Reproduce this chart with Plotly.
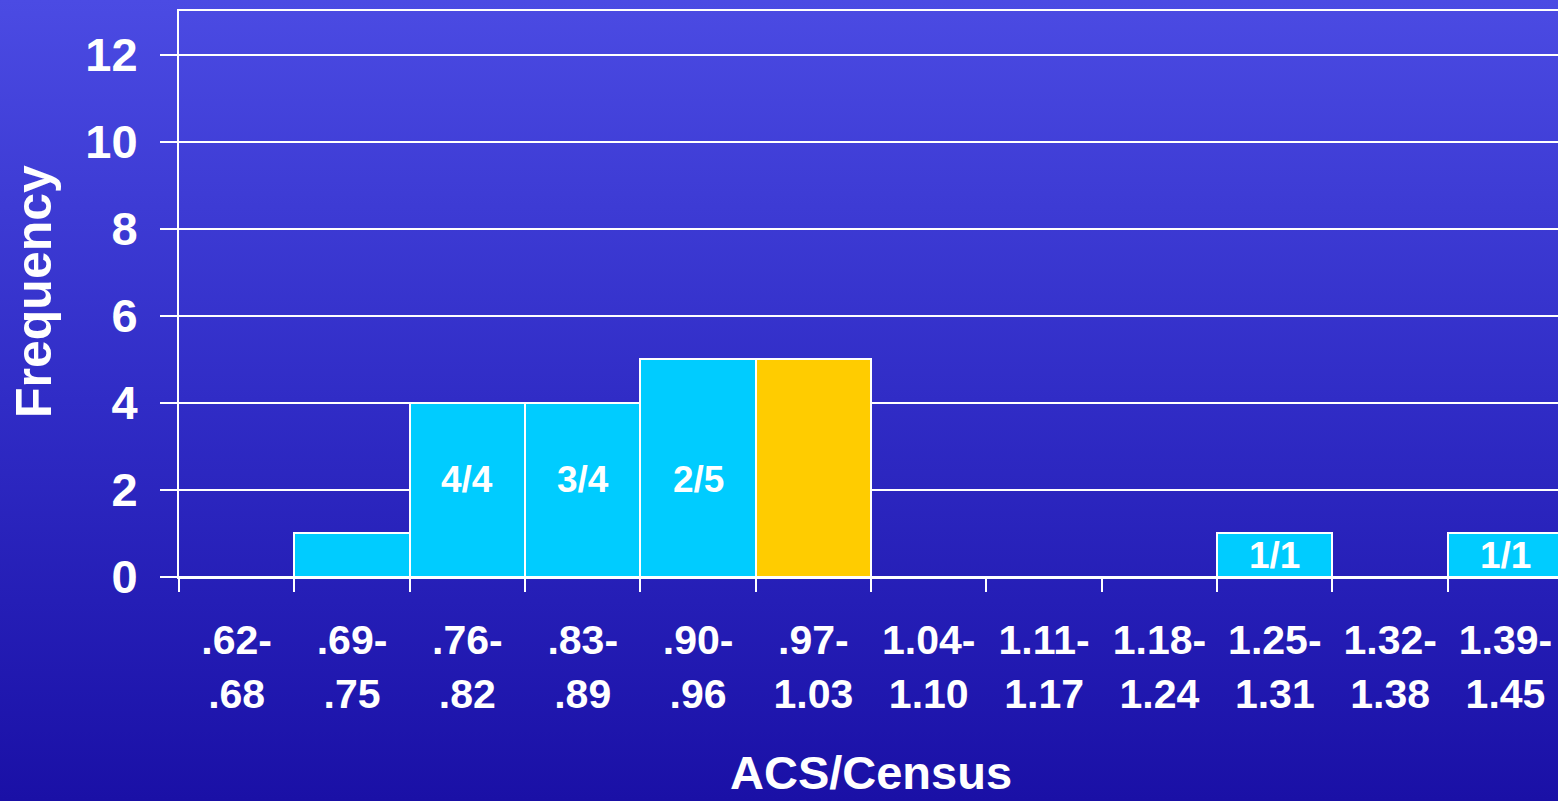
import base64
import plotly.graph_objects as go

# ---- data ----
bin_labels = [".62-<br>.68", ".69-<br>.75", ".76-<br>.82", ".83-<br>.89", ".90-<br>.96",
              ".97-<br>1.03", "1.04-<br>1.10", "1.11-<br>1.17", "1.18-<br>1.24",
              "1.25-<br>1.31", "1.32-<br>1.38", "1.39-<br>1.45"]
frequency = [0, 1, 4, 4, 5, 5, 0, 0, 0, 1, 0, 1]
bar_notes = ["", "", "4/4", "3/4", "2/5", "", "", "", "", "1/1", "", "1/1"]
y_ticks = [0, 2, 4, 6, 8, 10, 12]
highlight_bin = 5

W, H = 1558, 801
L, R, T, B = 179, 0, 11, 224
pw, ph = W - L - R, H - T - B

colors = ["#FFCC00" if i == highlight_bin else "#00CCFF" for i in range(len(bin_labels))]

FONT = "Liberation Sans, Arial, Helvetica, sans-serif"

svg = f'''<svg xmlns="http://www.w3.org/2000/svg" width="{W}" height="{H}" preserveAspectRatio="none">
<defs><linearGradient id="g" x1="0" y1="0" x2="0" y2="1">
<stop offset="0" stop-color="#4b4be3"/><stop offset="0.5" stop-color="#302cc6"/><stop offset="1" stop-color="#1a10a6"/>
</linearGradient></defs><rect width="{W}" height="{H}" fill="url(#g)"/></svg>'''
src = "data:image/svg+xml;base64," + base64.b64encode(svg.encode()).decode()

fig = go.Figure()
fig.add_trace(go.Bar(
    x=bin_labels, y=frequency,
    marker=dict(color=colors, line=dict(color="white", width=2)),
    hoverinfo="skip",
))

annotations = []
for i, (lab, v, note) in enumerate(zip(bin_labels, frequency, bar_notes)):
    if note:
        annotations.append(dict(
            x=lab, y=(2.25 if v >= 4 else v / 2), xref="x", yref="y", text=note,
            showarrow=False, font=dict(family=FONT, size=37, color="white", weight="bold"),
        ))

annotations.append(dict(
    x=-(L - 34) / pw, y=(ph - (292 - T)) / ph,
    xref="paper", yref="paper", text="Frequency", textangle=-90, showarrow=False,
    font=dict(family=FONT, size=50, color="white", weight="bold"),
    xanchor="center", yanchor="middle",
))
annotations.append(dict(
    x=(871 - L) / pw, y=-(H - 1 - T - ph) / ph, xref="paper", yref="paper",
    text="ACS/Census", showarrow=False,
    font=dict(family=FONT, size=47, color="white", weight="bold"),
    xanchor="center", yanchor="bottom", borderpad=0,
))

fig.update_layout(
    width=W, height=H,
    margin=dict(l=L, r=R, t=T, b=B, pad=0),
    paper_bgcolor="#302cc6",
    plot_bgcolor="rgba(0,0,0,0)",
    bargap=0,
    showlegend=False,
    annotations=annotations,
    images=[dict(source=src, xref="paper", yref="paper",
                 x=-L / pw, y=1 + T / ph, sizex=W / pw, sizey=H / ph,
                 sizing="stretch", xanchor="left", yanchor="top", layer="below")],
    xaxis=dict(
        type="category", categoryorder="array", categoryarray=bin_labels,
        range=[-0.5, 11.455], tickson="boundaries",
        ticks="outside", ticklen=13, tickwidth=2, tickcolor="white",
        showline=True, mirror=True, linecolor="white", linewidth=2,
        showgrid=False, zeroline=False, automargin=False,
        tickfont=dict(family=FONT, size=41, color="white", weight="bold"),
        ticklabelstandoff=26,
    ),
    yaxis=dict(
        range=[0, 13], tickmode="array", tickvals=y_ticks,
        ticks="outside", ticklen=17, tickwidth=2, tickcolor="white",
        showline=True, linecolor="white", linewidth=2,
        showgrid=True, gridcolor="white", gridwidth=2,
        zeroline=True, zerolinecolor="white", zerolinewidth=2,
        automargin=False,
        tickfont=dict(family=FONT, size=47, color="white", weight="bold"),
        ticklabelstandoff=13,
    ),
)

post = ("document.documentElement.style.margin='0';document.body.style.margin='0';"
        "document.body.style.padding='0';document.body.style.overflow='hidden';"
        "document.documentElement.style.overflow='hidden';")

fig.write_html("out.html", config={"displayModeBar": False}, post_script=post)
